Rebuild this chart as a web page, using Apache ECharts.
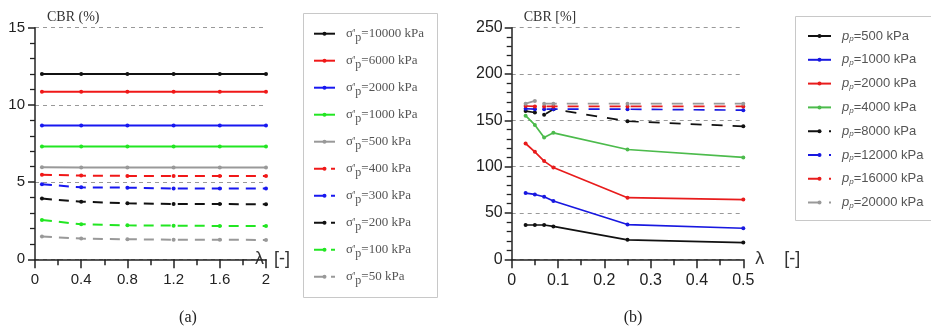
<!DOCTYPE html>
<html><head><meta charset="utf-8">
<script src="https://cdn.jsdelivr.net/npm/echarts@6/dist/echarts.min.js"></script>
<style>html,body{margin:0;padding:0;background:#fff}#c{width:931px;height:326px}</style>
</head><body><div id="c"></div><script>
// ---- Chart (a) data ----
const lambdaA = [0.06, 0.4, 0.8, 1.2, 1.6, 2];
const pressuresA = ['10000', '6000', '2000', '1000', '500', '400', '300', '200', '100', '50'];
const cbrA_10000 = [12.0, 12.0, 12.0, 12.0, 12.0, 12.0];
const cbrA_6000  = [10.85, 10.85, 10.85, 10.85, 10.85, 10.85];
const cbrA_2000  = [8.66, 8.66, 8.66, 8.66, 8.66, 8.66];
const cbrA_1000  = [7.3, 7.3, 7.3, 7.3, 7.3, 7.3];
const cbrA_500   = [5.96, 5.94, 5.94, 5.94, 5.94, 5.94];
const cbrA_400   = [5.48, 5.42, 5.4, 5.4, 5.4, 5.4];
const cbrA_300   = [4.86, 4.66, 4.64, 4.58, 4.58, 4.58];
const cbrA_200   = [3.93, 3.73, 3.63, 3.58, 3.58, 3.56];
const cbrA_100   = [2.55, 2.27, 2.2, 2.18, 2.16, 2.16];
const cbrA_50    = [1.47, 1.34, 1.3, 1.27, 1.27, 1.25];
const valuesA = [cbrA_10000, cbrA_6000, cbrA_2000, cbrA_1000, cbrA_500, cbrA_400, cbrA_300, cbrA_200, cbrA_100, cbrA_50];
const ticksAx = [0, 0.4, 0.8, 1.2, 1.6, 2];
const ticksAy = [0, 5, 10, 15];

// ---- Chart (b) data ----
const lambdaB = [0.03, 0.05, 0.07, 0.09, 0.25, 0.5];
const pressuresB = ['500', '1000', '2000', '4000', '8000', '12000', '16000', '20000'];
const cbrB_500   = [37, 37, 37, 35.5, 21, 18];
const cbrB_1000  = [71.5, 70, 67.5, 63, 37.5, 33.5];
const cbrB_2000  = [125, 116, 106, 99, 66.5, 64.5];
const cbrB_4000  = [155, 145, 131.5, 136.5, 118.5, 110];
const cbrB_8000  = [160, 158.5, 156, 162, 149, 143.5];
const cbrB_12000 = [162.5, 162, 162, 162, 162, 161];
const cbrB_16000 = [165.5, 165, 165, 165, 165, 165];
const cbrB_20000 = [168, 171, 168, 168, 168, 168];
const valuesB = [cbrB_500, cbrB_1000, cbrB_2000, cbrB_4000, cbrB_8000, cbrB_12000, cbrB_16000, cbrB_20000];
const ticksBx = [0, 0.1, 0.2, 0.3, 0.4, 0.5];
const ticksBy = [0, 50, 100, 150, 200, 250];

// ---- styles ----
const colorsA = ['#111111', '#f01818', '#1818f0', '#22e622', '#999999', '#f01818', '#1818f0', '#111111', '#22e622', '#999999'];
const dashedA = [false, false, false, false, false, true, true, true, true, true];
const colorsB = ['#111111', '#1818e0', '#e81c1c', '#4cbb4c', '#111111', '#1818e0', '#e81c1c', '#999999'];
const dashedB = [false, false, false, false, true, true, true, true];

const namesA = pressuresA.map(p => "σ'p=" + p + ' kPa');
const namesB = pressuresB.map(p => 'pp=' + p + ' kPa');

const axisCol = '#222';
const serif = 'Liberation Serif';
const sans = 'Liberation Sans';

function makeSeries(names, lambdas, values, colors, dashed, idx, width, dash) {
  return names.map((n, i) => ({
    name: n, type: 'line', xAxisIndex: idx, yAxisIndex: idx,
    data: lambdas.map((x, j) => [x, values[i][j]]),
    symbol: 'circle', symbolSize: 4, showSymbol: true,
    itemStyle: { color: colors[i] },
    lineStyle: { color: colors[i], width: width, type: dashed[i] ? dash : 'solid' },
    emphasis: { disabled: true }, animation: false
  }));
}

function xAx(idx, max, interval, fs) {
  return {
    gridIndex: idx, type: 'value', min: 0, max: max, interval: interval,
    axisLine: { show: true, onZero: false, lineStyle: { color: axisCol, width: 1.5 } },
    axisTick: { show: true, length: 9, lineStyle: { color: axisCol, width: 1.5 } },
    minorTick: { show: true, splitNumber: 2, length: 6, lineStyle: { color: axisCol, width: 1.5 } },
    axisLabel: { fontSize: fs, color: '#222', fontFamily: sans, margin: 13 },
    splitLine: { show: false }
  };
}
function yAx(idx, max, interval, fs, name, margin) {
  return {
    gridIndex: idx, type: 'value', min: 0, max: max, interval: interval,
    name: name, nameLocation: 'end', nameGap: 3,
    nameTextStyle: { fontFamily: serif, fontSize: 14, color: '#333', align: 'left', verticalAlign: 'bottom', padding: [0, 0, 0, 12] },
    axisLine: { show: true, lineStyle: { color: axisCol, width: 1.5 } },
    axisTick: { show: true, length: 7, lineStyle: { color: axisCol, width: 1.5 } },
    minorTick: { show: true, splitNumber: 5, length: 5, lineStyle: { color: axisCol, width: 1.3 } },
    axisLabel: { fontSize: fs, color: '#222', fontFamily: sans, margin: margin },
    splitLine: { show: true, lineStyle: { color: '#999', type: [4, 4], width: 1 } }
  };
}

const chart = echarts.init(document.getElementById('c'), null, { renderer: 'canvas' });
const xa = xAx(0, 2, 0.4, 15);
xa.name = 'λ  [-]'; xa.nameLocation = 'end'; xa.nameGap = -11;
xa.nameTextStyle = { fontFamily: sans, fontSize: 18, color: '#333', align: 'left', verticalAlign: 'middle', padding: [0, 0, 32, 0] };
const xb = xAx(1, 0.5, 0.1, 16);
xb.name = 'λ    [-]'; xb.nameLocation = 'end'; xb.nameGap = 12;
xb.nameTextStyle = { fontFamily: sans, fontSize: 18, color: '#333', align: 'left', verticalAlign: 'middle', padding: [0, 0, 32, 0] };

chart.setOption({
  animation: false,
  grid: [
    { left: 35, top: 27.7, width: 231, height: 231.6 },
    { left: 511.7, top: 27.7, width: 231.6, height: 231.6 }
  ],
  xAxis: [xa, xb],
  yAxis: [yAx(0, 15, 5, 15, 'CBR (%)', 10), yAx(1, 250, 50, 16, 'CBR [%]', 9)],
  legend: [
    {
      data: namesA, orient: 'vertical', left: 313, top: 27.2, padding: 0, height: 295,
      itemWidth: 21, itemHeight: 5, itemGap: 10.5, selectedMode: false,
      formatter: n => "{a|σ'}{s|p}{a|=" + n.split('=')[1] + '}',
      textStyle: {
        padding: [0, 0, 0, 6],
        rich: {
          a: { fontFamily: serif, fontSize: 13, color: '#555' },
          s: { fontFamily: serif, fontSize: 12, color: '#555', padding: [8, 0, 0, 0] }
        }
      }
    },
    {
      data: namesB, orient: 'vertical', left: 807, top: 29.5, padding: 0, height: 250,
      itemWidth: 23, itemHeight: 5, itemGap: 10.3, selectedMode: false,
      formatter: n => '{i|p}{s|p}{a|=' + n.split('=')[1] + '}',
      textStyle: {
        padding: [0, 0, 0, 6],
        rich: {
          i: { fontFamily: sans, fontStyle: 'italic', fontSize: 13, color: '#555' },
          a: { fontFamily: sans, fontSize: 13, color: '#555' },
          s: { fontFamily: sans, fontStyle: 'italic', fontSize: 8, color: '#555', padding: [6, 0, 0, 0] }
        }
      }
    }
  ],
  graphic: [
    { type: 'rect', z: -1, shape: { x: 303.5, y: 13.5, width: 134, height: 284 }, style: { fill: '#fff', stroke: '#c8c8c8', lineWidth: 1 } },
    { type: 'rect', z: -1, shape: { x: 795.5, y: 16.5, width: 150, height: 204 }, style: { fill: '#fff', stroke: '#c8c8c8', lineWidth: 1 } },
    { type: 'text', x: 188, y: 318, style: { text: '(a)', fontFamily: serif, fontSize: 16, fill: '#222', textAlign: 'center', textVerticalAlign: 'middle' } },
    { type: 'text', x: 633, y: 318, style: { text: '(b)', fontFamily: serif, fontSize: 16, fill: '#222', textAlign: 'center', textVerticalAlign: 'middle' } }
  ],
  series: [
    ...makeSeries(namesA, lambdaA, valuesA, colorsA, dashedA, 0, 2, [10, 7]),
    ...makeSeries(namesB, lambdaB, valuesB, colorsB, dashedB, 1, 1.7, [11, 10])
  ]
});
</script></body></html>
